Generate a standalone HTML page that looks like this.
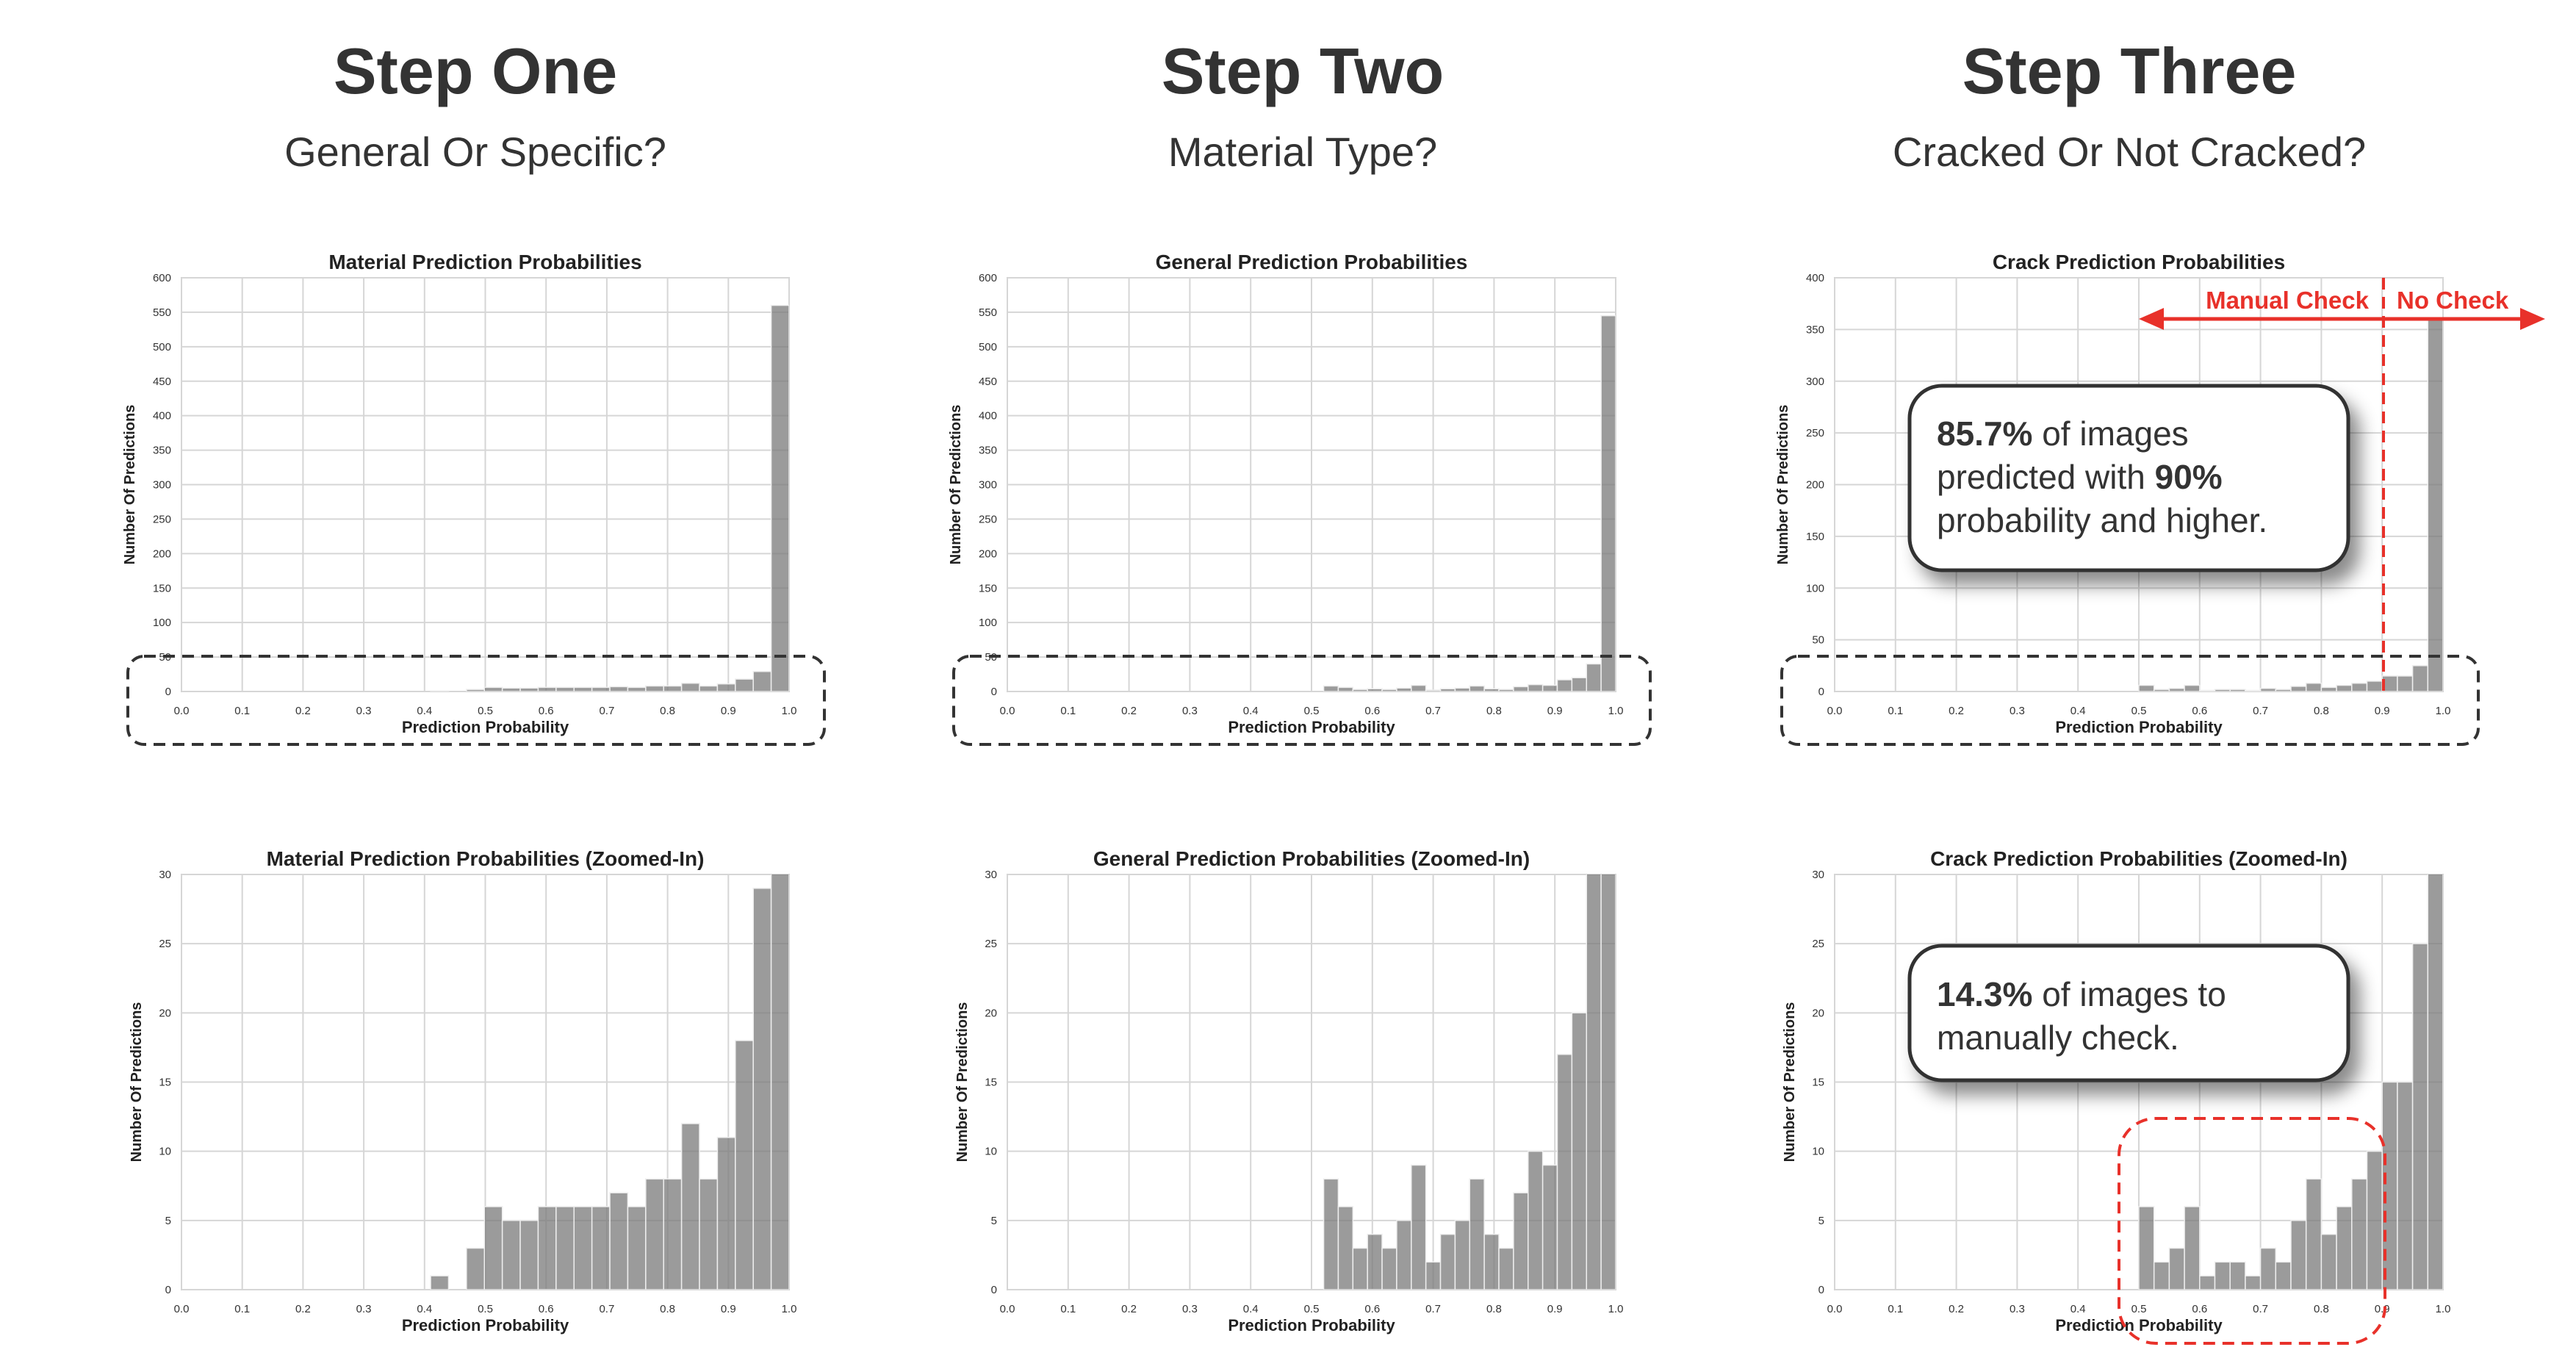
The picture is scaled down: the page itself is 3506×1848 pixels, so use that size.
<!DOCTYPE html>
<html><head><meta charset="utf-8">
<style>
html,body{margin:0;padding:0;background:#fff;}
svg{display:block;}
text{font-family:"Liberation Sans",sans-serif;}
</style></head>
<body>
<svg id="root" width="3506" height="1848" viewBox="0 0 3506 1848" xmlns="http://www.w3.org/2000/svg">
<defs>
<filter id="sh" x="-20%" y="-20%" width="150%" height="160%">
<feDropShadow dx="14" dy="18" stdDeviation="12" flood-color="#000" flood-opacity="0.45"/>
</filter>
</defs>
<g>
<text x="647" y="127" font-size="88" font-weight="bold" fill="#333" text-anchor="middle">Step One</text>
<text x="647" y="226" font-size="56" fill="#333" text-anchor="middle">General Or Specific?</text>
</g>
<g>
<text x="1773" y="127" font-size="88" font-weight="bold" fill="#333" text-anchor="middle">Step Two</text>
<text x="1773" y="226" font-size="56" fill="#333" text-anchor="middle">Material Type?</text>
</g>
<g>
<text x="2898" y="127" font-size="88" font-weight="bold" fill="#333" text-anchor="middle">Step Three</text>
<text x="2898" y="226" font-size="56" fill="#333" text-anchor="middle">Cracked Or Not Cracked?</text>
</g>
<g id="charts"></g>
<g id="overlay"></g>
</svg>
<script>
// ---- data ----
const xTicks = [0.0,0.1,0.2,0.3,0.4,0.5,0.6,0.7,0.8,0.9,1.0];
const yTicksBig = [0,50,100,150,200,250,300,350,400,450,500,550,600];
const yTicksCrack = [0,50,100,150,200,250,300,350,400];
const yTicksZoom = [0,5,10,15,20,25,30];
const materialStart = 0.41, materialWidth = 0.0295;
const materialCounts = [1,0,3,6,5,5,6,6,6,6,7,6,8,8,12,8,11,18,29,560];
const generalStart = 0.52, generalWidth = 0.024;
const generalCounts = [8,6,3,4,3,5,9,2,4,5,8,4,3,7,10,9,17,20,40,545];
const crackStart = 0.5, crackWidth = 0.025;
const crackCounts = [6,2,3,6,1,2,2,1,3,2,5,8,4,6,8,10,15,15,25,360];

const NS = "http://www.w3.org/2000/svg";
function mk(tag, attrs, parent){const e=document.createElementNS(NS,tag);for(const k in attrs)e.setAttribute(k,attrs[k]);if(parent)parent.appendChild(e);return e;}
const charts = document.getElementById('charts');
let clipId = 0;

function drawChart(o){
  const g = mk('g',{},charts);
  
  
  const X = v => o.x0 + (v)*(o.x1-o.x0);
  const Y = v => o.y0 - v/o.ymax*(o.y0-o.y1);
  // frame
  const fr = mk('rect',{x:o.x0,y:o.y1,width:o.x1-o.x0,height:o.y0-o.y1,fill:'#fff',stroke:'#d0d0d0','stroke-width':2},g);
  
  
  // gridlines
  xTicks.forEach(t=>{
    const l = mk('line',{x1:X(t),x2:X(t),y1:o.y1,y2:o.y0,stroke:'#d6d6d6','stroke-width':2},g);
    
    
    const tx = mk('text',{x:X(t),y:o.y0+31,'font-size':15,fill:'#333','text-anchor':'middle'},g);
    tx.textContent = t.toFixed(1);
    
    
  });
  o.yticks.forEach(t=>{
    const l = mk('line',{x1:o.x0,x2:o.x1,y1:Y(t),y2:Y(t),stroke:'#d6d6d6','stroke-width':2},g);
    
    
    const tx = mk('text',{x:o.x0-14,y:Y(t)+5,'font-size':15,fill:'#333','text-anchor':'end'},g);
    tx.textContent = t;
    
    
  });
  // bars
  clipId++;
  const cp = mk('clipPath',{id:'c'+clipId},g);
  mk('rect',{x:o.x0,y:o.y1,width:o.x1-o.x0,height:o.y0-o.y1},cp);
  const bg = mk('g',{'clip-path':'url(#c'+clipId+')'},g);
  o.counts.forEach((c,i)=>{
    if(c<=0) return;
    const a = o.start + i*o.width, b = a + o.width;
    const r = mk('rect',{x:X(a),y:Y(c),width:X(b)-X(a),height:o.y0-Y(c),fill:'#7a7a7a','fill-opacity':0.75,stroke:'#eee','stroke-width':1.5},bg);
    
    
  });
  const t = mk('text',{x:(o.x0+o.x1)/2,y:o.y1-12,'font-size':28,'font-weight':'bold',fill:'#222','text-anchor':'middle'},g);
  t.textContent = o.title;
  
  
  const xl = mk('text',{x:(o.x0+o.x1)/2,y:o.y0+56,'font-size':22,'font-weight':'bold',fill:'#222','text-anchor':'middle'},g);
  xl.textContent = 'Prediction Probability';
  
  
  const cy = (o.y0+o.y1)/2;
  const yl = mk('text',{x:o.ylx,y:cy,'font-size':20,'font-weight':'bold',fill:'#222','text-anchor':'middle',transform:'rotate(-90 '+o.ylx+' '+cy+')'},g);
  yl.textContent = 'Number Of Predictions';
  
  
}

const cols = [
  {x0:247,x1:1074,tTop:'Material Prediction Probabilities',tBot:'Material Prediction Probabilities (Zoomed-In)',counts:materialCounts,start:materialStart,width:materialWidth,yt:yTicksBig,ymax:600,n:'material'},
  {x0:1371,x1:2199,tTop:'General Prediction Probabilities',tBot:'General Prediction Probabilities (Zoomed-In)',counts:generalCounts,start:generalStart,width:generalWidth,yt:yTicksBig,ymax:600,n:'general'},
  {x0:2497,x1:3325,tTop:'Crack Prediction Probabilities',tBot:'Crack Prediction Probabilities (Zoomed-In)',counts:crackCounts,start:crackStart,width:crackWidth,yt:yTicksCrack,ymax:400,n:'crack'}
];
cols.forEach(c=>{
  drawChart({name:c.n+'-histogram',x0:c.x0,x1:c.x1,y0:941,y1:378,ymax:c.ymax,yticks:c.yt,counts:c.counts,start:c.start,width:c.width,title:c.tTop,ylx:c.x0-64});
  drawChart({name:c.n+'-histogram-zoomed',x0:c.x0,x1:c.x1,y0:1755,y1:1190,ymax:30,yticks:yTicksZoom,counts:c.counts,start:c.start,width:c.width,title:c.tBot,ylx:c.x0-55});
});

const ov = document.getElementById('overlay');
function add(tag, attrs, name){const e=mk(tag,attrs,ov);return e;}
// dashed black boxes
[174,1298,2425].forEach(x=>{
  add('rect',{x:x,y:893,width:948,height:120,rx:22,fill:'none',stroke:'#333','stroke-width':4,'stroke-dasharray':'16 10'},'low-count-highlight-box');
});
// red threshold line
add('line',{x1:3244,x2:3244,y1:378,y2:941,stroke:'#e8312a','stroke-width':4,'stroke-dasharray':'16 10'},'threshold-line');
add('line',{x1:2935,x2:3440,y1:434,y2:434,stroke:'#e8312a','stroke-width':5},'threshold-arrow');
add('polygon',{points:'2911,434 2945,419 2945,449',fill:'#e8312a'},'arrow-head-left');
add('polygon',{points:'3464,434 3430,419 3430,449',fill:'#e8312a'},'arrow-head-right');
const mc = add('text',{x:3224,y:420,'font-size':33,'font-weight':'bold',fill:'#e8312a','text-anchor':'end'},'manual-check-label');
mc.textContent='Manual Check';
const nc = add('text',{x:3262,y:420,'font-size':33,'font-weight':'bold',fill:'#e8312a'},'no-check-label');
nc.textContent='No Check';
// callouts
add('rect',{x:2599,y:525,width:597,height:251,rx:44,fill:'#fff',stroke:'#333','stroke-width':5,filter:'url(#sh)'},'callout-box-top');
let t1 = add('text',{x:2636,y:606,'font-size':46,fill:'#333'},'callout-line');
t1.innerHTML='<tspan font-weight="bold">85.7%</tspan> of images';
let t2 = add('text',{x:2636,y:665,'font-size':46,fill:'#333'},'callout-line');
t2.innerHTML='predicted with <tspan font-weight="bold">90%</tspan>';
let t3 = add('text',{x:2636,y:724,'font-size':46,fill:'#333'},'callout-line');
t3.textContent='probability and higher.';
add('rect',{x:2599,y:1287,width:597,height:183,rx:44,fill:'#fff',stroke:'#333','stroke-width':5,filter:'url(#sh)'},'callout-box-bottom');
let t4 = add('text',{x:2636,y:1369,'font-size':46,fill:'#333'},'callout-line');
t4.innerHTML='<tspan font-weight="bold">14.3%</tspan> of images to';
let t5 = add('text',{x:2636,y:1428,'font-size':46,fill:'#333'},'callout-line');
t5.textContent='manually check.';
add('rect',{x:2884,y:1522,width:362,height:306,rx:50,fill:'none',stroke:'#e8312a','stroke-width':4,'stroke-dasharray':'16 10'},'manual-check-region');
</script>
</body></html>
